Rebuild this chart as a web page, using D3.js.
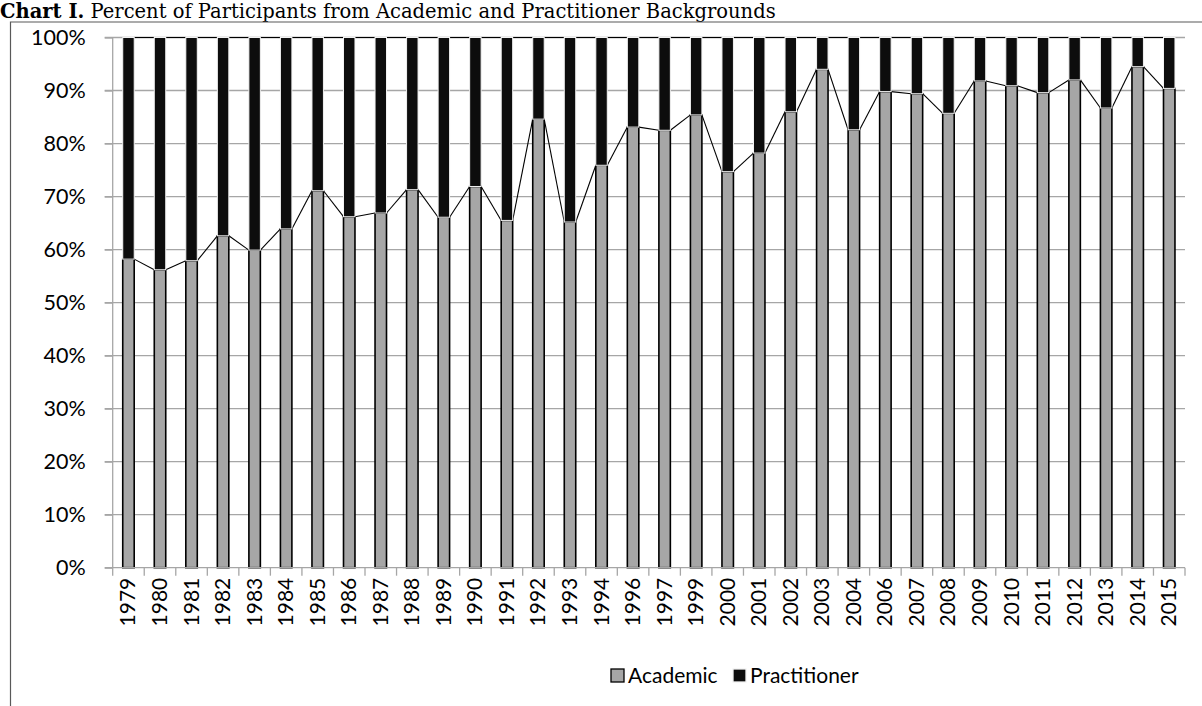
<!DOCTYPE html>
<html>
<head>
<meta charset="utf-8">
<script src="https://cdn.jsdelivr.net/npm/d3@7"></script>
<style>
  html, body { margin: 0; padding: 0; background: #fff; }
  svg { display: block; }
</style>
</head>
<body>
<svg id="chart" width="1202" height="706"></svg>
<script>
// Years in which participant background was recorded
const years = ["1979","1980","1981","1982","1983","1984","1985","1986","1987","1988",
  "1989","1990","1991","1992","1993","1994","1996","1997","1999","2000","2001","2002",
  "2003","2004","2006","2007","2008","2009","2010","2011","2012","2013","2014","2015"];

// Share of participants with an academic background (%)
const academic = [58.2, 56.2, 57.9, 62.6, 59.9, 63.9, 71.1, 66.2, 66.9, 71.3,
  66.1, 71.9, 65.5, 84.6, 65.2, 75.9, 83.1, 82.5, 85.4, 74.7, 78.2, 86.0,
  94.0, 82.6, 89.8, 89.4, 85.7, 91.8, 90.9, 89.6, 92.0, 86.7, 94.5, 90.4];

// Share with a practitioner background (%)
const practitioner = [41.8, 43.8, 42.1, 37.4, 40.1, 36.1, 28.9, 33.8, 33.1, 28.7,
  33.9, 28.1, 34.5, 15.4, 34.8, 24.1, 16.9, 17.5, 14.6, 25.3, 21.8, 14.0,
  6.0, 17.4, 10.2, 10.6, 14.3, 8.2, 9.1, 10.4, 8.0, 13.3, 5.5, 9.6];

const seriesNames = ["Academic", "Practitioner"];
const seriesColors = ["#a6a6a6", "#0d0d0d"];
const yTicks = [0, 10, 20, 30, 40, 50, 60, 70, 80, 90, 100];

const svg = d3.select("#chart");
const labelFont = "Lato, 'Open Sans', sans-serif";

// Title
const title = svg.append("text")
  .attr("x", 0).attr("y", 18.2)
  .attr("font-family", "'DejaVu Serif', serif")
  .attr("font-size", 19.5)
  .attr("fill", "#000");
title.append("tspan").attr("font-weight", "bold").text("Chart I.");
title.append("tspan").text(" Percent of Participants from Academic and Practitioner Backgrounds");

// Chart frame
svg.append("path")
  .attr("d", "M10.5,706 V22 H1202")
  .attr("fill", "none")
  .attr("stroke", "#595959")
  .attr("stroke-width", 1.2);

const plot = { left: 112.7, right: 1185, top: 37.5, bottom: 567.7 };

const x = d3.scaleBand()
  .domain(years)
  .range([plot.left, plot.right])
  .paddingInner(1.75 / 2.75)
  .paddingOuter(1.75 / 2.75 / 2);

const y = d3.scaleLinear().domain([0, 100]).range([plot.bottom, plot.top]);

// Horizontal gridlines
svg.append("g")
  .selectAll("line")
  .data(yTicks.filter(d => d > 0))
  .join("line")
  .attr("x1", plot.left - 8).attr("x2", plot.right)
  .attr("y1", d => y(d)).attr("y2", d => y(d))
  .attr("stroke", "#a6a6a6")
  .attr("stroke-width", 1.3);

// Y axis line and labels
const yAxis = svg.append("g")
  .attr("transform", `translate(${plot.left},0)`)
  .call(d3.axisLeft(y).tickValues(yTicks).tickSize(8).tickFormat(d => d + "%"));
yAxis.select(".domain").attr("stroke", "#a6a6a6").attr("stroke-width", 1.3)
  .attr("d", `M0,${plot.bottom}V${plot.top}`);
yAxis.selectAll(".tick line").attr("stroke", "#a6a6a6").attr("stroke-width", 1.3);
yAxis.selectAll(".tick text")
  .attr("x", -27)
  .attr("font-family", labelFont)
  .attr("font-size", 21.5)
  .attr("fill", "#000");

// Stack the two series to 100%
const rows = years.map((yr, i) => ({ year: yr, Academic: academic[i], Practitioner: practitioner[i] }));
const stacked = d3.stack().keys(seriesNames)(rows);

const bw = x.bandwidth();

// Series lines joining the tops of neighbouring segments
const seriesLine = d3.line();
stacked.forEach(layer => {
  const segs = [];
  for (let i = 0; i < layer.length - 1; i++) {
    segs.push([
      [x(years[i]) + bw, y(layer[i][1])],
      [x(years[i + 1]), y(layer[i + 1][1])]
    ]);
  }
  svg.append("g")
    .selectAll("path")
    .data(segs)
    .join("path")
    .attr("d", seriesLine)
    .attr("fill", "none")
    .attr("stroke", "#000")
    .attr("stroke-width", 1.1);
});

// Bars
stacked.forEach((layer, k) => {
  svg.append("g")
    .selectAll("rect")
    .data(layer)
    .join("rect")
    .attr("x", d => x(d.data.year))
    .attr("width", bw)
    .attr("y", d => y(d[1]))
    .attr("height", d => y(d[0]) - y(d[1]))
    .attr("fill", seriesColors[k])
    .attr("stroke", k === 0 ? "#000" : "#f2f2f2")
    .attr("stroke-width", k === 0 ? 1.6 : 1);
});

// X axis with tick marks between categories
const xAxisG = svg.append("g");
xAxisG.append("line")
  .attr("x1", plot.left - 8).attr("x2", plot.right)
  .attr("y1", plot.bottom).attr("y2", plot.bottom)
  .attr("stroke", "#a6a6a6").attr("stroke-width", 1.3);
const bounds = years.map(yr => x(yr) - x.step() * x.paddingInner() / 2).concat([plot.right]);
xAxisG.selectAll("line.tk")
  .data(bounds)
  .join("line")
  .attr("class", "tk")
  .attr("x1", d => d).attr("x2", d => d)
  .attr("y1", plot.bottom).attr("y2", plot.bottom + 8)
  .attr("stroke", "#a6a6a6").attr("stroke-width", 1.3);

xAxisG.selectAll("text")
  .data(years)
  .join("text")
  .attr("transform", d => `translate(${x(d) + bw / 2 + 7},${plot.bottom + 10}) rotate(-90)`)
  .attr("text-anchor", "end")
  .attr("font-family", labelFont)
  .attr("font-size", 21)
  .attr("fill", "#000")
  .text(d => d);

// Legend
const legend = svg.append("g").attr("transform", "translate(611,676)");
const legendX = [0, 122];
seriesNames.forEach((name, k) => {
  const g = legend.append("g").attr("transform", `translate(${legendX[k]},0)`);
  g.append("rect")
    .attr("x", 0).attr("y", -7).attr("width", 13).attr("height", 13)
    .attr("fill", seriesColors[k])
    .attr("stroke", k === 0 ? "#000" : "#f2f2f2")
    .attr("stroke-width", 1.3);
  g.append("text")
    .attr("x", 17).attr("y", 0)
    .attr("dy", "0.35em")
    .attr("font-family", labelFont)
    .attr("font-size", 21)
    .attr("fill", "#000")
    .text(name);
});
</script>
</body>
</html>
